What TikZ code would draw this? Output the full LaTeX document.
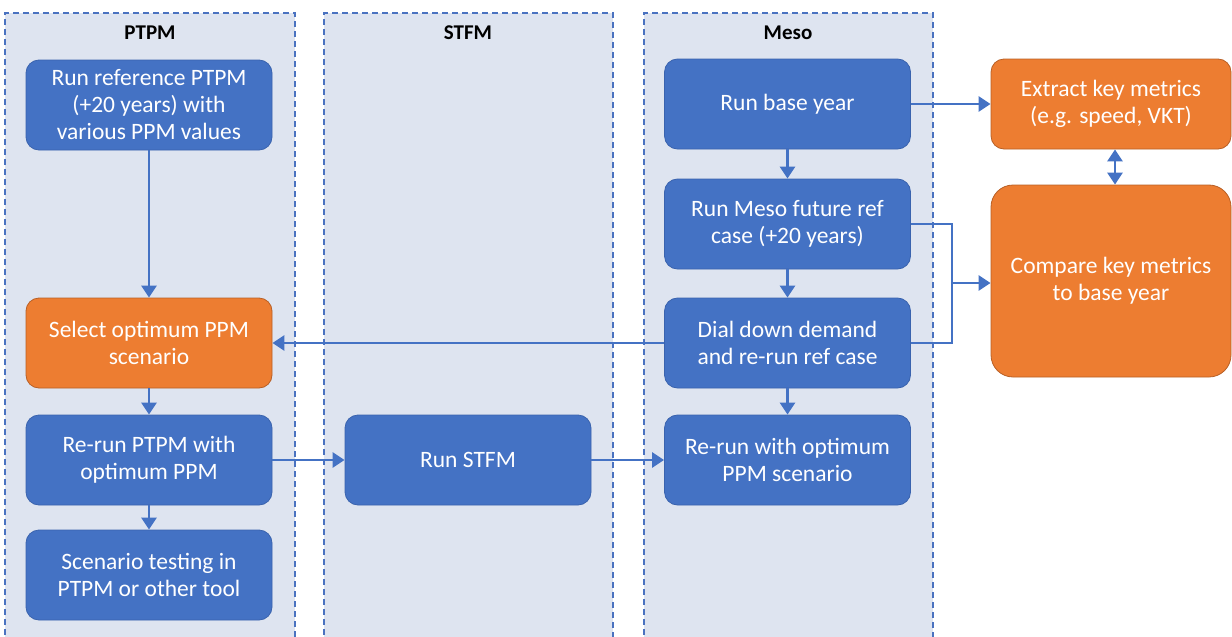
\documentclass[tikz,border=0pt]{standalone}
\usepackage{fontspec}
\setmainfont{Carlito}
\usetikzlibrary{arrows.meta}
\definecolor{laneblue}{HTML}{DEE4F0}
\definecolor{laneline}{HTML}{4A72C0}
\definecolor{boxblue}{HTML}{4472C4}
\definecolor{boxblueline}{HTML}{3A63AE}
\definecolor{boxorange}{HTML}{ED7D31}
\definecolor{boxorangeline}{HTML}{B85F25}
\definecolor{arrowblue}{HTML}{4472C4}
\tikzset{
  lane/.style={fill=laneblue, draw=laneline, line width=1.5pt, dash pattern=on 6pt off 4pt},
  lanetitle/.style={font=\fontsize{21}{24}\selectfont\bfseries, text=black},
  bluebox/.style={rectangle, rounded corners=13pt, fill=boxblue, draw=boxblueline, line width=0.8pt,
    text=white, align=center, font=\fontsize{23.5}{27}\selectfont,
    minimum width=246pt, minimum height=90pt, inner sep=0pt},
  orangebox/.style={bluebox, fill=boxorange, draw=boxorangeline, minimum width=240pt},
  flow/.style={draw=arrowblue, line width=2.8pt, -{Triangle[length=12pt,width=15pt]}},
  link/.style={draw=arrowblue, line width=2.8pt},
  twoway/.style={draw=arrowblue, line width=2.8pt, {Triangle[length=12pt,width=15pt]}-{Triangle[length=12pt,width=15pt]}}
}
\begin{document}
\begin{tikzpicture}[x=1pt, y=-1pt]
\useasboundingbox (0,0) rectangle (1232,637);
% swim lanes
\draw[lane] (5,645) -- (5,13) -- (295,13) -- (295,645);
\draw[lane] (324,645) -- (324,13) -- (613,13) -- (613,645);
\draw[lane] (644,645) -- (644,13) -- (933,13) -- (933,645);
\node[lanetitle] (tp) at (150,33) {PTPM};
\node[lanetitle] (ts) at (468,33) {STFM};
\node[lanetitle] (tm) at (788,33) {Meso};
% PTPM lane
\node[bluebox] (p1) at (149,105) {Run reference PTPM\\(+20 years) with\\various PPM values};
\node[orangebox, minimum width=246pt] (p2) at (149,343) {Select optimum PPM\\scenario};
\node[bluebox] (p3) at (149,460) {Re-run PTPM with\\optimum PPM};
\node[bluebox] (p4) at (149,575) {Scenario testing in\\PTPM or other tool};
% STFM lane
\node[bluebox] (s1) at (468,460) {Run STFM};
% Meso lane
\node[bluebox] (m1) at (787.5,104) {Run base year};
\node[bluebox] (m2) at (787.5,224) {Run Meso future ref\\case (+20 years)};
\node[bluebox] (m3) at (787.5,343) {Dial down demand\\and re-run ref case};
\node[bluebox] (m4) at (787.5,460) {Re-run with optimum\\PPM scenario};
% metrics
\node[orangebox] (o1) at (1111,104) {Extract key metrics\\(e.g. speed, VKT)};
\node[orangebox, minimum height=192pt, rounded corners=22pt] (o2) at (1111,281) {Compare key metrics\\to base year};
\coordinate (j) at (952,283);
\coordinate (dx) at (1115,0);
% connectors
\draw[flow] (p1) -- (p2);
\draw[flow] (p2) -- (p3);
\draw[flow] (p3) -- (p4);
\draw[flow] (p3) -- (s1);
\draw[flow] (s1) -- (m4);
\draw[flow] (m1) -- (m2);
\draw[flow] (m2) -- (m3);
\draw[flow] (m3) -- (m4);
\draw[flow] (m3.west) -- (p2.east);
\draw[flow] (m1.east) -- (o1.west);
\draw[link] (m2.east) -| (j);
\draw[link] (m3.east) -| (j);
\draw[flow] (j) -- (o2.west |- j);
\draw[twoway] (o1.south -| dx) -- (o2.north -| dx);
\end{tikzpicture}
\end{document}
